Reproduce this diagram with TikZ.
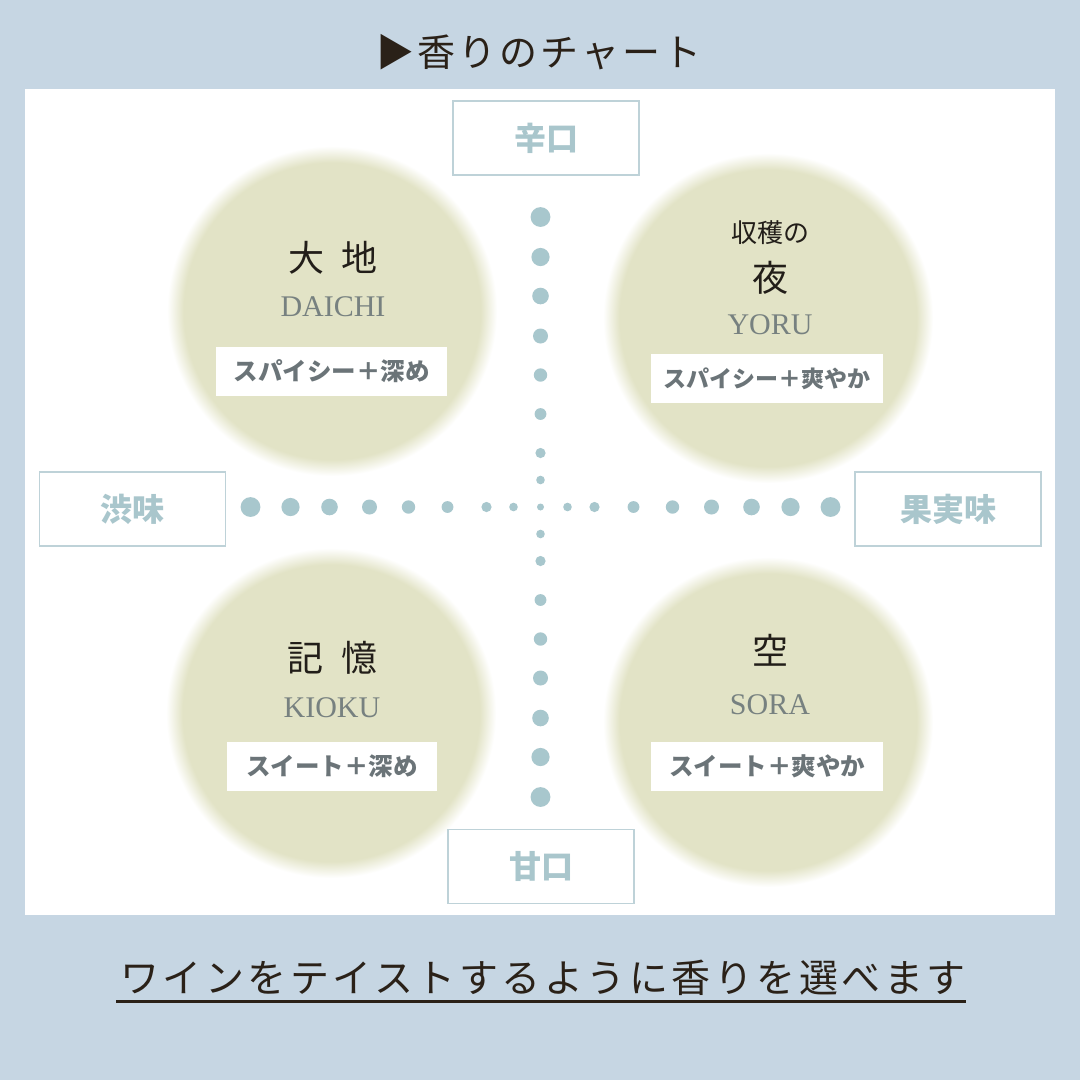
\documentclass[tikz,border=0pt]{standalone}
\usepackage{fontspec}
\setmainfont{Liberation Serif}
\newfontfamily\jp{Noto Sans CJK JP}
\newfontfamily\jptitle[LetterSpace=8]{Noto Sans CJK JP}
\newfontfamily\jpslogan[LetterSpace=9]{Noto Sans CJK JP}
\usetikzlibrary{positioning,calc}

\definecolor{bgblue}{HTML}{C6D6E3}
\definecolor{blobgreen}{HTML}{E2E3C6}
\definecolor{dotblue}{HTML}{A8C7CD}
\definecolor{axisline}{HTML}{BED2D8}
\definecolor{axistext}{HTML}{A9C6CC}
\definecolor{tagtext}{HTML}{6B7478}
\definecolor{romangray}{HTML}{778180}
\definecolor{nameink}{HTML}{221E19}
\definecolor{titleink}{HTML}{2A2118}

\pgfdeclareradialshading{blobshade}{\pgfpoint{0bp}{0bp}}{color(0bp)=(blobgreen); color(22.5bp)=(blobgreen); color(25bp)=(white); color(50bp)=(white)}

\begin{document}
\begin{tikzpicture}[
    x=1pt, y=-1pt,
    blob/.style={circle, inner sep=0pt, minimum size=330pt, shading=blobshade},
    axisbox/.style={draw=axisline, line width=1.5pt, fill=white, minimum width=186pt, minimum height=74pt, font=\jp\bfseries\fontsize{32}{34}\selectfont, text=axistext},
    tastetag/.style={fill=white, inner xsep=2pt, minimum width=#1, minimum height=49pt, font=\jp\bfseries\fontsize{24.5}{26}\selectfont, text=tagtext},
    jpname/.style={font=\jp\fontsize{#1}{#1}\selectfont, text=nameink, inner sep=0pt},
    romanname/.style={font=\fontsize{30}{30}\selectfont, text=romangray, inner sep=0pt},
    axisdot/.style={fill=dotblue}
  ]
    \useasboundingbox[fill=bgblue] (0,0) rectangle (1080,1080);
    \fill[white] (25,89) rectangle (1055,915);

    \node[font=\jptitle\fontsize{38}{40}\selectfont, text=titleink, inner sep=0pt] (title) at (539,52) {▶香りのチャート};

    % aroma circles
    \node[blob] (daichi) at (332,311) {};
    \node[blob] (yoru)   at (768,318) {};
    \node[blob] (kioku)  at (331,713) {};
    \node[blob] (sora)   at (768,722) {};

    % dotted axes
    \coordinate (origin) at (540.5,507);
    \foreach \d/\r in {27/4.3, 54/5.1, 93/5.9, 132/6.7, 171/7.5, 211/8.3, 250/9.1, 290/9.9} {
      \fill[axisdot] ($(origin)+(\d,0)$) circle (\r);
      \fill[axisdot] ($(origin)+(-\d,0)$) circle (\r);
      \fill[axisdot] ($(origin)+(0,\d)$) circle (\r);
      \fill[axisdot] ($(origin)+(0,-\d)$) circle (\r);
    }
    \fill[axisdot] (origin) circle (3.5);

    \node[axisbox] (karakuchi) at (546,138)   {辛口};
    \node[axisbox] (amakuchi)  at (541,866.5) {甘口};
    \node[axisbox] (shibumi)   at (132.5,509) {渋味};
    \node[axisbox] (kajitsu)   at (948,509)   {果実味};

    % names
    \node[jpname=36]  (daichiJ) at (333,258) {大\hspace{17pt}地};
    \node[romanname]  (daichiR) at (333,307) {DAICHI};
    \node[tastetag=231pt] (daichiT) at (331.5,371.5) {スパイシー＋深め};

    \node[jpname=26]  (yoruPre) at (770,233) {収穫の};
    \node[jpname=36]  (yoruJ)   at (770,278) {夜};
    \node[romanname]  (yoruR)   at (770,325) {YORU};
    \node[tastetag=232pt, font=\jp\bfseries\fontsize{23}{25}\selectfont] (yoruT) at (767,378.5) {スパイシー＋爽やか};

    \node[jpname=36]  (kiokuJ)  at (332,658) {記\hspace{18pt}憶};
    \node[romanname]  (kiokuR)  at (332,708) {KIOKU};
    \node[tastetag=210pt] (kiokuT) at (332,766.5) {スイート＋深め};

    \node[jpname=36]  (soraJ)   at (770,650) {空};
    \node[romanname]  (soraR)   at (770,705) {SORA};
    \node[tastetag=232pt] (soraT) at (767,766.5) {スイート＋爽やか};

    % slogan
    \node[font=\jpslogan\fontsize{39}{41}\selectfont, text=titleink, inner sep=0pt] (slogan) at (543,978) {ワインをテイストするように香りを選べます};
    \draw[titleink, line width=3pt] ($(slogan.south west)+(-4,5)$) -- ($(slogan.south east)+(0,5)$);
\end{tikzpicture}
\end{document}
